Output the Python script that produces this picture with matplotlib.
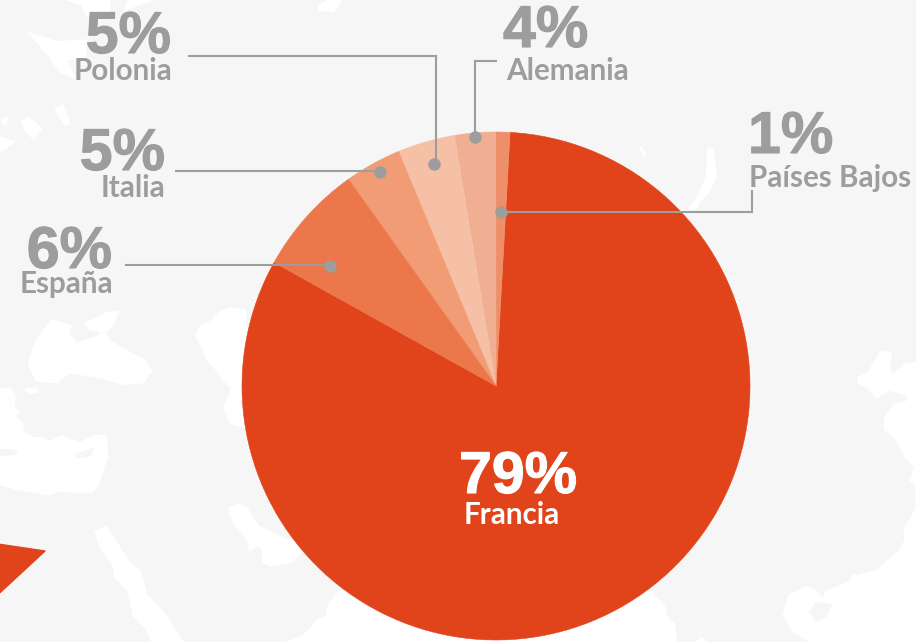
import matplotlib
matplotlib.use('Agg')
import matplotlib.pyplot as plt
import matplotlib.patheffects as pe
from matplotlib.patches import Polygon

# share labels as printed on the chart
countries = ['Francia', 'Países Bajos', 'Alemania', 'Polonia', 'Italia', 'España']
labels = ['79%', '1%', '4%', '5%', '5%', '6%']
# wedge sizes as actually drawn (they differ from the printed labels)
sizes = [82.2, 0.9, 2.6, 3.65, 3.6, 7.05]
colors = ['#e1431a', '#ef8f69', '#f0ae92', '#f6c0a6', '#f19c75', '#eb774b']

W, H = 916, 642
GREY = '#9d9d9c'
BG = '#f6f6f6'

plt.rcParams['font.family'] = ['Lato', 'DejaVu Sans']

fig = plt.figure(figsize=(W / 100, H / 100), dpi=100, facecolor=BG)
ax = fig.add_axes([0, 0, 1, 1])


def fy(y):
    return H - y


def blob(pts, ox=0, oy=0, color='white', z=1):
    xy = [(ox + x / 3, fy(oy + y / 3)) for x, y in pts]
    ax.add_patch(Polygon(xy, closed=True, fc=color, ec=color, lw=1, joinstyle='round', zorder=z))


# lower left crop
blob([(155, -3), (125, 35), (105, 65), (85, 130), (110, 180), (170, 185), (210, 155), (300, 170),
      (370, 190), (430, 185), (455, 150), (430, 115), (380, 90), (330, 60), (315, 37), (340, 10),
      (355, -28), (320, -25), (255, 7), (270, 27), (305, 32), (295, 45), (230, 67), (205, 37),
      (213, 15), (180, 3)], 0, 321)
blob([(75, 205), (110, 200), (115, 212), (85, 218)], 0, 321)
blob([(0, 205), (30, 200), (45, 225), (42, 265), (60, 270), (45, 290), (65, 300), (70, 330),
      (100, 350), (125, 350), (150, 362), (185, 345), (240, 365), (285, 343), (320, 345),
      (322, 410), (295, 490), (275, 515), (225, 515), (180, 510), (145, 522), (50, 505), (0, 490)], 0, 321)
blob([(0, 385), (50, 390), (45, 400), (0, 405)], 0, 321, BG, 2)
blob([(228, 400), (280, 382), (270, 405), (235, 412)], 0, 321, BG, 2)
blob([(285, 630), (320, 618), (385, 720), (420, 750), (440, 820), (495, 880), (550, 963),
      (455, 963), (440, 925), (400, 885), (385, 810), (345, 770), (340, 735), (300, 680)], 0, 321)
blob([(685, 560), (720, 548), (740, 560), (775, 615), (810, 630), (850, 655), (890, 655), (920, 680),
      (870, 725), (810, 735), (790, 725), (785, 680), (770, 675), (750, 690), (740, 650), (705, 615)], 0, 321)
blob([(590, 45), (630, 15), (695, 0), (740, 0), (760, 320), (735, 320), (690, 305), (672, 260),
      (695, 200), (660, 150), (620, 110)], 0, 321)
blob([(137, 140), (150, 108), (180, 95), (210, 65), (240, 55), (285, 60), (290, 100), (255, 110),
      (248, 135), (230, 150), (280, 205), (300, 330), (245, 330), (245, 295), (215, 265), (195, 235),
      (170, 210), (160, 170)], 150, 290)
blob([(1020, 810), (985, 850), (980, 885), (950, 900), (910, 945), (860, 963), (1374, 963), (1374, 700)], 0, 321)

# lower right crop
blob([(575, 810), (620, 855), (625, 885), (650, 910), (655, 963), (0, 963), (0, 800)], 458, 321)
blob([(715, 963), (730, 950), (745, 963)], 458, 321)
blob([(1055, 963), (1000, 925), (975, 880), (995, 820), (1045, 797), (1075, 810), (1095, 835), (1105, 810),
      (1170, 785), (1185, 762), (1200, 765), (1265, 745), (1275, 730), (1320, 695), (1340, 660),
      (1340, 620), (1360, 590), (1374, 560), (1374, 490), (1355, 480), (1370, 440), (1340, 405),
      (1310, 350), (1280, 325), (1280, 290), (1310, 250), (1350, 240), (1345, 220), (1290, 207),
      (1255, 232), (1235, 205), (1200, 185), (1200, 170), (1230, 155), (1250, 120), (1270, 90),
      (1300, 95), (1295, 130), (1300, 165), (1340, 130), (1374, 125), (1380, 963)], 458, 321)
blob([(1055, 870), (1075, 845), (1120, 850), (1105, 885), (1075, 900)], 458, 321, BG, 2)

# upper left crop
blob([(85, 97), (170, 125), (260, 120), (255, 170), (200, 180), (225, 235), (180, 215), (140, 160)])
blob([(200, 0), (330, 0), (330, 40), (260, 50), (245, 15)])
blob([(385, 0), (460, 0), (400, 20), (375, 30)])
blob([(165, 325), (190, 315), (210, 370), (195, 375), (175, 345)])
blob([(65, 365), (85, 350), (125, 385), (100, 417), (75, 390)])
blob([(0, 410), (45, 425), (10, 450), (0, 450)])
blob([(5, 360), (22, 350), (20, 372), (8, 372)])
blob([(955, 20), (985, 0), (1025, 0), (1000, 37), (955, 30)])

# upper right crop
blob([(545, 440), (550, 440), (562, 465), (555, 465)], 458, 0)
blob([(750, 445), (765, 445), (775, 530), (750, 580), (720, 610), (715, 628), (690, 628), (720, 590), (745, 530)], 458, 0)

# red piece of the map at lower left
blob([(0, 670), (135, 690), (0, 815)], 0, 321, '#e1431a', 2)

wedges, _ = ax.pie(sizes, colors=colors, startangle=150.9, counterclock=True,
                   center=(496, fy(386)), radius=254, frame=True,
                   wedgeprops={'zorder': 3})
for w, c in zip(wedges, colors):
    w.set_edgecolor(c)
    w.set_linewidth(0.4)

ax.set_xlim(0, W)
ax.set_ylim(0, H)
ax.set_aspect('equal')
ax.axis('off')

# leader lines, in pixel coords: (path, dot)
leaders = [
    ([(188, 56), (436, 56), (436, 164)], (434, 164)),
    ([(175, 171), (380, 171)], (380, 171.5)),
    ([(125, 265), (330, 265)], (330, 265.5)),
    ([(497, 61), (475, 61), (475, 137)], (475, 137)),
    ([(502, 211.5), (752, 211.5), (752, 190)], (501, 211.5)),
]
for path, dot in leaders:
    ax.plot([p[0] for p in path], [fy(p[1]) for p in path], color=GREY, lw=1.5, zorder=4,
            solid_joinstyle='miter', solid_capstyle='butt')
    ax.plot(dot[0], fy(dot[1]), 'o', color=GREY, ms=9, mew=0, zorder=5)


# text anchors: big number x, y then name x, y (baseline)
def lab(i, x1, y1, x2, y2, ha, color=GREY):
    t = ax.text(x1, fy(y1), labels[i], fontsize=42.5, fontweight='bold', family='Liberation Sans',
                color=color, ha=ha, va='baseline', zorder=6)
    t.set_path_effects([pe.withStroke(linewidth=0.8, foreground=color)])
    ax.text(x2, fy(y2), countries[i], fontsize=21.3, fontweight='bold', color=color, ha=ha, va='baseline', zorder=6)


lab(3, 171, 53, 172, 80, 'right')
lab(4, 165, 170, 165, 197, 'right')
lab(5, 112, 268, 113, 293, 'right')
lab(2, 503, 47, 506, 80, 'left')
lab(1, 748, 153, 749, 187, 'left')
lab(0, 518, 493, 512, 524, 'center', 'white')

fig.savefig('out.png', dpi=100, facecolor=BG)
